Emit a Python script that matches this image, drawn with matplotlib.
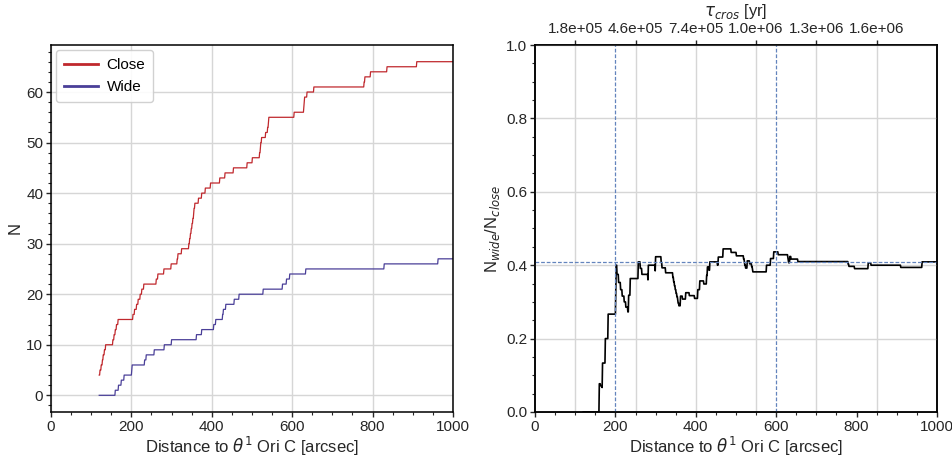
import numpy as np
import matplotlib
matplotlib.use("Agg")
import matplotlib.pyplot as plt
from matplotlib.lines import Line2D
from matplotlib.ticker import MultipleLocator, FixedLocator, FixedFormatter

plt.rcParams['font.family'] = ['Liberation Sans', 'DejaVu Sans']
plt.rcParams['mathtext.fontset'] = 'dejavusans'

# Projected distances (arcsec) from theta1 Ori C at which each pair is counted
close_inner_count = 4      # close pairs already inside the first evaluated radius
wide_inner_count = 0
close_dist = [122, 125, 128, 130, 133, 136,
              154, 157, 160, 163, 167,
              204, 208, 213, 217, 222, 226, 231,
              262, 266, 281, 299, 314, 316, 325,
              343, 345, 347, 349, 351, 353, 355, 356, 358,
              367, 375, 384, 397, 420, 433, 454, 488, 501,
              519, 521, 522, 524, 534, 539, 541, 542,
              605, 629, 630, 631, 637, 654, 779, 781, 795, 836, 910]
wide_dist = [160, 168, 175, 182, 201, 202, 233, 237, 257, 282, 300,
             362, 375, 405, 410, 427, 429, 435, 456, 468, 528,
             576, 586, 594, 634, 829, 963]

r_min, r_max = 120, 1000
marker_dist = [200, 600]

# Crossing-time axis: ticks on the distance scale, labels in years
tau_tick_dist = [100, 250, 400, 550, 700, 850]
yr_per_arcsec = 1840.0

close_color = '#c0282d'
wide_color = '#4a3f98'
grid_color = '#d6d6d6'
ref_color = '#6384bd'

tick_fs = 11
label_fs = 12

radii = np.arange(r_min, r_max + 1, 1.0)
n_close = close_inner_count + np.searchsorted(np.sort(close_dist), radii, side='right')
n_wide = wide_inner_count + np.searchsorted(np.sort(wide_dist), radii, side='right')
ratio = n_wide / n_close

fig = plt.figure(figsize=(9.53, 4.57), dpi=100)
ax1 = fig.add_axes([0.0535, 0.0985, 0.4218, 0.803])
ax3 = fig.add_axes([0.5614, 0.0985, 0.4218, 0.803])

for ax in (ax1, ax3):
    for sp in ax.spines.values():
        sp.set_color('black')
        sp.set_linewidth(1.1)
    ax.tick_params(which='major', direction='out', length=3.5, width=1,
                   labelsize=tick_fs, colors='0.15', pad=2)
    ax.tick_params(which='minor', direction='out', length=2, width=0.8, colors='0.15')
    ax.set_axisbelow(True)

# Left panel: cumulative counts
ax1.plot(radii, n_close, color=close_color, lw=0.9)
ax1.plot(radii, n_wide, color=wide_color, lw=0.9)
ax1.set_xlim(0, 1000)
ax1.set_ylim(-3.3, 69.3)
ax1.xaxis.set_major_locator(MultipleLocator(200))
ax1.xaxis.set_minor_locator(MultipleLocator(50))
ax1.yaxis.set_major_locator(MultipleLocator(10))
ax1.yaxis.set_minor_locator(MultipleLocator(2))
ax1.grid(True, which='major', color=grid_color, lw=1)
ax1.set_xlabel(r'Distance to $\theta^1$ Ori C [arcsec]', fontsize=label_fs, color='0.15', labelpad=1)
ax1.set_ylabel('N', fontsize=label_fs, color='0.15', labelpad=3)
handles = [Line2D([], [], color=close_color, lw=2),
           Line2D([], [], color=wide_color, lw=2)]
ax1.legend(handles, ['Close', 'Wide'], loc='upper left', fontsize=tick_fs,
           frameon=True, fancybox=True, edgecolor='0.8', framealpha=0.9,
           handlelength=2.2, handletextpad=0.6, borderpad=0.5, labelspacing=0.55,
           borderaxespad=0.35)

# Right panel: wide / close ratio
ax4 = ax3.twiny()
ax3.set_zorder(ax4.get_zorder() + 1)
ax3.patch.set_visible(False)

ax3.plot(radii, ratio, color='black', lw=1.2)
for d in marker_dist:
    ax3.axvline(d, color=ref_color, lw=0.9, ls=(0, (3, 1.5)))
ax3.axhline(ratio[-1], color=ref_color, lw=0.9, ls=(0, (3, 1.5)))
ax3.set_xlim(0, 1000)
ax3.set_ylim(0, 1.0)
ax3.xaxis.set_major_locator(MultipleLocator(200))
ax3.xaxis.set_minor_locator(MultipleLocator(50))
ax3.yaxis.set_major_locator(MultipleLocator(0.2))
ax3.yaxis.set_minor_locator(MultipleLocator(0.05))
ax3.yaxis.set_major_formatter(plt.FormatStrFormatter('%.1f'))
ax3.grid(True, axis='y', which='major', color=grid_color, lw=1)
ax3.set_xlabel(r'Distance to $\theta^1$ Ori C [arcsec]', fontsize=label_fs, color='0.15', labelpad=1)
ax3.set_ylabel(r'N$_{wide}$/N$_{close}$', fontsize=label_fs, color='0.15', labelpad=3)

ax4.set_xlim(ax3.get_xlim())
ax4.xaxis.set_major_locator(FixedLocator(tau_tick_dist))
ax4.xaxis.set_major_formatter(FixedFormatter(['%.1e' % (d * yr_per_arcsec) for d in tau_tick_dist]))
ax4.tick_params(axis='x', which='major', direction='out', length=3.5, width=1,
                labelsize=tick_fs, colors='0.15', pad=3)
ax4.grid(True, axis='x', color=grid_color, lw=1)
for sp in ax4.spines.values():
    sp.set_color('black')
    sp.set_linewidth(1.1)
ax4.set_xlabel(r'$\tau_{cros}$ [yr]', fontsize=label_fs, color='0.15', labelpad=4)

fig.savefig('out.png', dpi=100)
